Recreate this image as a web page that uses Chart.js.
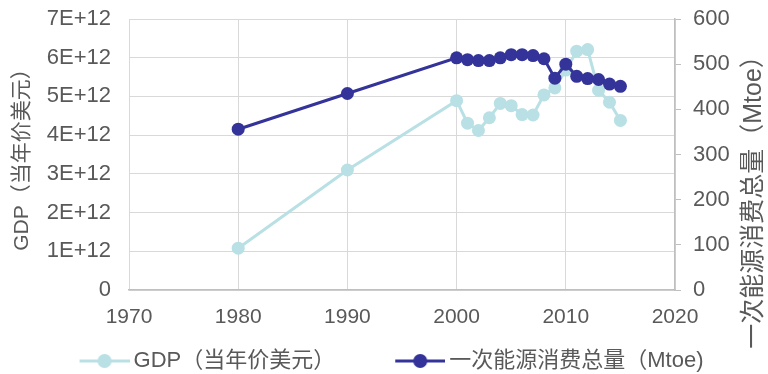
<!DOCTYPE html>
<html>
<head>
<meta charset="utf-8">
<script src="https://cdn.jsdelivr.net/npm/chart.js@4.4.0/dist/chart.umd.min.js"></script>
<style>
  html, body { margin: 0; padding: 0; background: #ffffff; }
  #wrap { width: 768px; height: 374px; }
</style>
</head>
<body>
<div id="wrap"><canvas id="chart" width="768" height="374"></canvas></div>
<script>
// Years with observations
const years = [1980, 1990, 2000, 2001, 2002, 2003, 2004, 2005, 2006, 2007, 2008, 2009, 2010, 2011, 2012, 2013, 2014, 2015];
// GDP, current US dollars
const gdp = [1.08e12, 3.10e12, 4.89e12, 4.31e12, 4.12e12, 4.45e12, 4.82e12, 4.76e12, 4.53e12, 4.52e12, 5.04e12, 5.22e12, 5.68e12, 6.17e12, 6.21e12, 5.16e12, 4.85e12, 4.38e12];
// Total primary energy consumption, Mtoe
const energy = [356, 435, 514, 510, 508, 508, 514, 521, 521, 519, 512, 469, 500, 473, 468, 466, 456, 451];
// Axis ticks
const xTicks = [1970, 1980, 1990, 2000, 2010, 2020];
const gdpTicks = [0, 1e12, 2e12, 3e12, 4e12, 5e12, 6e12, 7e12];
const energyTicks = [0, 100, 200, 300, 400, 500, 600];

const gdpLabel = 'GDP（当年价美元）';
const energyLabel = '一次能源消费总量（Mtoe)';
const energyAxisTitle = '一次能源消费总量（Mtoe）';

const LIGHT = '#b9e0e4';
const DARK = '#333399';
const TEXT = '#595959';
const GRID = '#d9d9d9';
const AXIS = '#bfbfbf';
const FONT = "'Liberation Sans', 'Noto Sans CJK SC', Arial, sans-serif";

// Legend marker: short line with a dot, drawn to the right part of the box
function legendMarker(color) {
  const c = document.createElement('canvas');
  c.width = 107; c.height = 20;
  const g = c.getContext('2d');
  g.strokeStyle = color; g.lineWidth = 3;
  g.beginPath(); g.moveTo(57, 10); g.lineTo(107, 10); g.stroke();
  g.fillStyle = color;
  g.beginPath(); g.arc(82, 10, 7, 0, Math.PI * 2); g.fill();
  return c;
}
const gdpMarker = legendMarker(LIGHT);
const energyMarker = legendMarker(DARK);

const RIGHT_PAD = 35;

// Right axis title reads bottom-to-top like the left one
const rightTitle = {
  id: 'rightTitle',
  afterDraw(chart) {
    const ctx = chart.ctx;
    ctx.save();
    ctx.translate(754, 196);
    ctx.rotate(-Math.PI / 2);
    ctx.font = "25px " + FONT;
    ctx.fillStyle = TEXT;
    ctx.textAlign = 'center';
    ctx.textBaseline = 'middle';
    ctx.fillText(energyAxisTitle, 0, 0);
    ctx.restore();
  }
};

// Vertical axes: fixed width, no extra label padding above/below the plot
const fixVertical = (width) => (s) => {
  s.width = width;
  s.paddingTop = 0;
  s.paddingBottom = 0;
};

const toPoints = (vals) => years.map((yr, i) => ({ x: yr, y: vals[i] }));

new Chart(document.getElementById('chart'), {
  type: 'line',
  data: {
    datasets: [
      {
        label: gdpLabel,
        data: toPoints(gdp),
        yAxisID: 'y',
        borderColor: LIGHT,
        backgroundColor: LIGHT,
        borderWidth: 3,
        pointRadius: 6.5,
        pointHoverRadius: 6.5,
        pointBorderWidth: 0,
        tension: 0,
        order: 1
      },
      {
        label: energyLabel,
        data: toPoints(energy),
        yAxisID: 'y1',
        borderColor: DARK,
        backgroundColor: DARK,
        borderWidth: 3,
        pointRadius: 6.5,
        pointHoverRadius: 6.5,
        pointBorderWidth: 0,
        tension: 0,
        order: 0
      }
    ]
  },
  options: {
    responsive: false,
    animation: false,
    devicePixelRatio: 1,
    layout: { padding: { top: 19, left: 0, right: RIGHT_PAD, bottom: -8 } },
    plugins: {
      tooltip: { enabled: false },
      legend: {
        position: 'bottom',
        align: 'center',
        labels: {
          usePointStyle: true,
          pointStyleWidth: 93,
          padding: 10,
          color: TEXT,
          font: { family: FONT, size: 22 },
          generateLabels: () => [
            { text: gdpLabel, pointStyle: gdpMarker, fillStyle: LIGHT, strokeStyle: LIGHT, lineWidth: 0, hidden: false, datasetIndex: 0, fontColor: TEXT },
            { text: energyLabel, pointStyle: energyMarker, fillStyle: DARK, strokeStyle: DARK, lineWidth: 0, hidden: false, datasetIndex: 1, fontColor: TEXT }
          ]
        }
      }
    },
    scales: {
      x: {
        type: 'linear',
        min: xTicks[0],
        max: xTicks[xTicks.length - 1],
        afterBuildTicks: (s) => { s.ticks = xTicks.map(v => ({ value: v })); },
        afterFit: (s) => { s.height = 50; },
        grid: { color: GRID, lineWidth: 1, drawTicks: false },
        border: { display: true, color: AXIS, width: 1.5 },
        ticks: {
          color: TEXT,
          font: { family: FONT, size: 21 },
          padding: 15,
          maxRotation: 0,
          callback: (v) => String(v)
        }
      },
      y: {
        position: 'left',
        min: 0,
        max: gdpTicks[gdpTicks.length - 1],
        afterBuildTicks: (s) => { s.ticks = gdpTicks.map(v => ({ value: v })); },
        afterFit: fixVertical(129),
        grid: { color: GRID, lineWidth: 1, drawTicks: false },
        border: { display: false },
        ticks: {
          color: TEXT,
          font: { family: FONT, size: 22 },
          padding: 18,
          callback: (v) => v === 0 ? '0' : (v / 1e12) + 'E+12'
        },
        title: {
          display: true,
          text: gdpLabel,
          color: TEXT,
          font: { family: FONT, size: 21 },
          padding: { top: 10, bottom: 0 }
        }
      },
      y1: {
        position: 'right',
        min: 0,
        max: energyTicks[energyTicks.length - 1],
        afterBuildTicks: (s) => { s.ticks = energyTicks.map(v => ({ value: v })); },
        afterFit: fixVertical(93 - RIGHT_PAD),
        grid: { drawOnChartArea: false, drawTicks: true, tickLength: 6, color: AXIS },
        border: { display: true, color: AXIS, width: 1.5 },
        ticks: {
          color: TEXT,
          font: { family: FONT, size: 22 },
          padding: 12,
          callback: (v) => String(v)
        }
      }
    }
  },
  plugins: [rightTitle]
});
</script>
</body>
</html>
